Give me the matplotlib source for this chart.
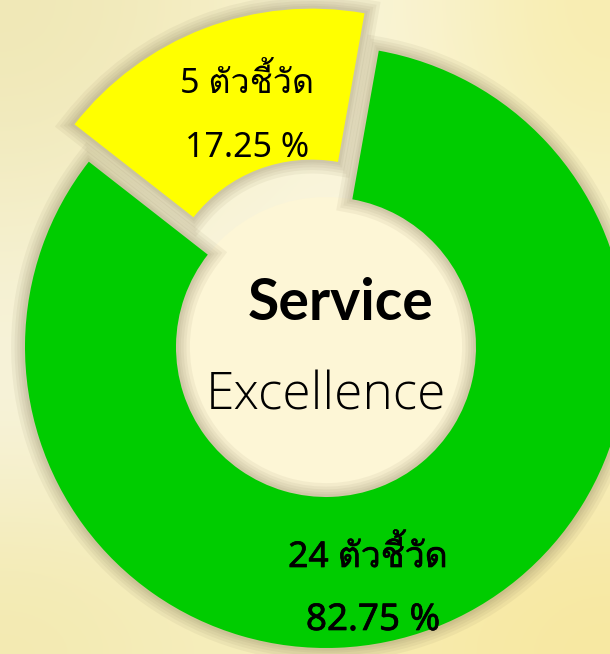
import numpy as np
import matplotlib.pyplot as plt
import matplotlib.patheffects as pe
from matplotlib.patches import Circle

counts = [24, 5]
percents = [82.75, 17.25]
unit = "ตัวชี้วัด"
colors = ["#00CC00", "#FFFF00"]
title_bold = "Service"
title_light = "Excellence"

CENTER = (326, 307)   # pixel space, y up
R_OUT = 301
WIDTH = 151
EXPLODE = [0, 40]
START = 142

fig = plt.figure(figsize=(6.1, 6.54), dpi=100)
ax = fig.add_axes([0, 0, 1, 1])

# soft cream / yellow background
bg = np.array([
    [[240, 232, 182], [245, 238, 195], [250, 246, 222], [248, 237, 175]],
    [[245, 240, 205], [250, 246, 225], [251, 247, 226], [249, 243, 205]],
    [[248, 245, 226], [249, 245, 222], [250, 246, 224], [247, 240, 200]],
    [[243, 234, 176], [246, 238, 190], [247, 236, 175], [247, 232, 160]],
]) / 255.0
ax.imshow(bg, extent=(0, 610, 0, 654), interpolation="bicubic", zorder=0)

# cream hole behind the ring
ax.add_patch(Circle(CENTER, R_OUT - WIDTH, fc="#FDF6D6", ec="none", zorder=1))

# blurred shadow around the ring
for lw in [20, 15, 11, 7, 4]:
    wedges, _ = ax.pie(percents, startangle=START, counterclock=True,
                       center=CENTER, radius=R_OUT, explode=EXPLODE,
                       wedgeprops=dict(width=WIDTH, fc="none",
                                       ec=(0.50, 0.46, 0.33, 0.08), lw=lw))
    for w in wedges:
        w.set_zorder(2)

wedges, _ = ax.pie(percents, colors=colors, startangle=START, counterclock=True,
                   center=CENTER, radius=R_OUT, explode=EXPLODE,
                   wedgeprops=dict(width=WIDTH, linewidth=0))
for w in wedges:
    w.set_zorder(3)

ax.set_xlim(0, 610)
ax.set_ylim(0, 654)
ax.set_aspect("auto")
ax.axis("off")

thai = ["Noto Sans", "Loma", "DejaVu Sans"]
thick = [pe.withStroke(linewidth=0.5, foreground="black")]

# yellow slice labels
ax.text(247, 561, f"{counts[1]} {unit}", family=thai, fontsize=24.5,
        ha="center", va="baseline", zorder=5)
ax.text(247, 497, f"{percents[1]:.2f} %", family=thai, fontsize=24.5,
        ha="center", va="baseline", zorder=5)
# green slice labels
ax.text(368, 87, f"{counts[0]} {unit}", family=thai, fontsize=25.5,
        ha="center", va="baseline", zorder=5, path_effects=thick)
ax.text(373, 24, f"{percents[0]:.2f} %", family=thai, fontsize=26.5,
        ha="center", va="baseline", zorder=5, path_effects=thick)

# centre text
ax.text(341, 334, title_bold, family="Lato", fontweight="bold", fontsize=41,
        ha="center", va="baseline", zorder=5)
ax.text(326, 244, title_light, family="Open Sans", fontweight=300, fontsize=37,
        ha="center", va="baseline", zorder=5)

fig.savefig("out.png", dpi=100)
